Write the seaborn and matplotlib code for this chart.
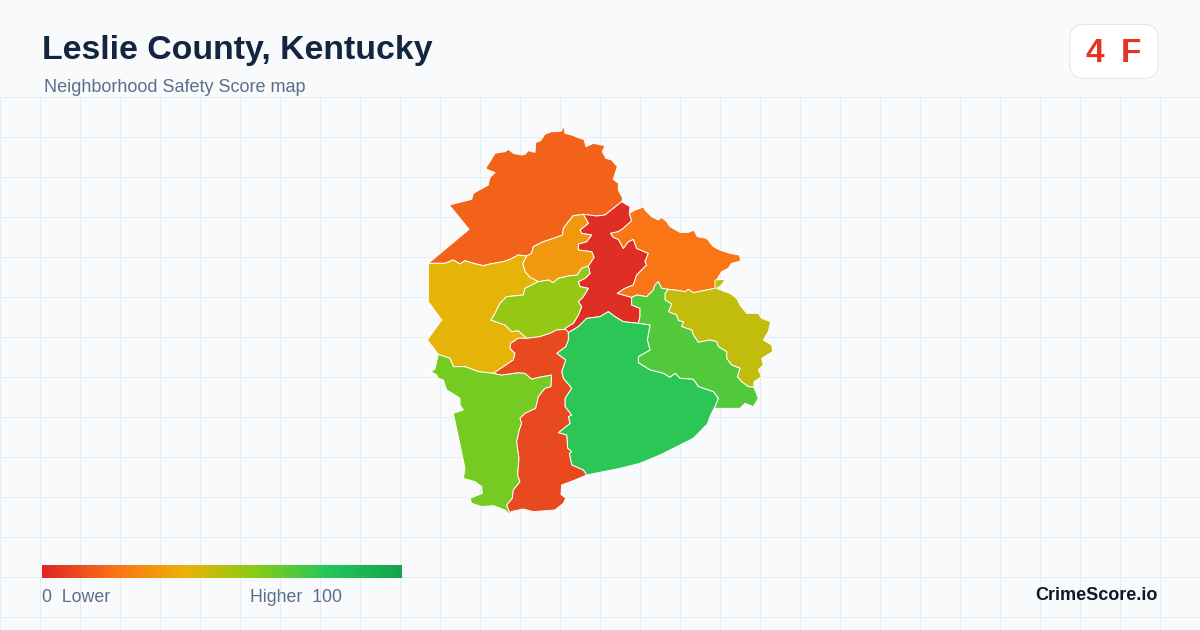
import numpy as np
import matplotlib
matplotlib.use("Agg")
import matplotlib.pyplot as plt
from matplotlib.patches import FancyBboxPatch, Polygon
import seaborn as sns

# ---------- values ----------
TITLE = "Leslie County, Kentucky"
SUBTITLE = "Neighborhood Safety Score map"
SCORE_TEXT = "4"
GRADE_TEXT = "F"
OVERALL_SCORE = 4
BRAND = "CrimeScore.io"
SCALE_MIN, SCALE_MAX = 0, 100

region_names = ["north", "center", "northeast", "amber", "west", "midlime",
                "olive", "eastmid", "southeast", "southwest", "south"]
region_scores = [16, 2, 21, 32, 41, 57, 48, 70, 78, 63, 9]
scale_colors = ["#dc2626", "#f97316", "#eab308", "#84cc16", "#22c55e", "#16a34a"]

# Map geometry: shared borders, in map units (y down)
N_out = [(25,430),(147,328),(88,255),(155,238),(160,220),(178,210),(205,195),(208,178),(212,170),(225,158),(200,148),(198,143),
         (210,125),(225,100),(240,97),(255,95),(265,88),(280,100),(305,105),(315,103),(325,92),(345,97),(347,68),(362,62),(375,42),
         (395,35),(410,35),(425,33),(430,15),(435,40),(455,45),(480,55),(492,58),(498,80),(520,70),(555,77),(547,95),(558,115),
         (575,120),(592,140),(580,178),(595,190),(595,210),(608,235),(605,245)]
N_R = [(605,245),(580,265),(555,285),(530,288),(490,283)]
N_Am = [(490,283),(460,287),(445,305),(430,325),(428,345),(395,357),(370,365),(340,380),(335,400),(320,408)]
N_Y = [(320,408),(295,405),(270,418),(250,425),(210,432),(190,437),(160,430),(135,422),(120,432),(100,420),(75,430),(50,430),(25,430)]
Am_R = [(490,283),(505,310),(480,330),(485,340),(515,345),(500,365),(475,372),(475,390),(515,395),(522,412),(505,438)]
Am_LY = [(505,438),(485,445),(472,465),(445,468),(415,475),(400,488),(385,480),(355,485)]
Am_Y = [(355,485),(330,472),(315,455),(308,430),(320,408)]
LY_R = [(505,438),(510,460),(495,475),(475,485),(480,500),(505,505),(490,530),(475,545),(485,560),(475,585),(460,610),(435,625)]
R_tip = [(435,625),(437,628)]
R_G = [(445,638),(475,620),(500,595),(540,590),(565,575),(585,590),(610,605),(655,610)]
R_top = [(605,245),(630,260),(628,280)]
R_O = [(628,280),(635,302),(610,325),(595,335),(572,340),(580,352),(595,358),(610,385),(625,365),(640,358),(650,385),
       (685,400),(675,425),(680,435),(650,465),(640,495),(615,505),(592,520),(635,532)]
R_GM = [(635,532),(635,555),(660,565),(660,590),(655,610)]
O_GM = [(635,532),(650,525),(680,530),(700,510),(705,495),(715,485),(725,505),(745,508)]
O_out = [(628,280),(645,270),(660,265),(670,260),(675,270),(695,290),(715,300),(725,292),(740,305),(750,320),(780,337),(805,337),
         (822,330),(832,350),(860,355),(880,380),(900,390),(930,400),(958,405),(962,423),(935,430),(925,445),(905,455),(890,480),(885,505)]
O_Ol = [(745,508),(765,510),(795,515),(805,508),(820,518),(850,512),(885,505)]
Ol_out = [(885,505),(885,480),(915,478),(905,495),(890,505),(915,515),(930,520),(950,535),(960,555),(980,580),(1015,580),(1025,595),
          (1052,605),(1045,635),(1030,660),(1055,675),(1058,695),(1025,715),(1030,735),(1015,750),(1025,770),(1002,785),(1002,802)]
GM_Ol = [(745,508),(735,520),(735,540),(755,552),(745,575),(770,585),(775,602),(790,605),(785,620),(815,630),(820,645),(835,667),
         (870,660),(890,665),(895,680),(920,695),(920,715),(935,735),(960,745),(952,770),(965,785),(985,800),(1002,802)]
GM_out = [(1002,802),(1015,835),(1000,860),(975,850),(960,865),(900,865),(880,865),(870,890),(862,912)]
G_GM = [(655,610),(690,615),(682,660),(690,690),(655,710),(655,728),(690,750),(730,760),(750,772),(765,760),(780,775),(820,778),
        (835,800),(880,815),(895,835),(885,860),(872,885),(862,912)]
G_out = [(862,912),(820,955),(780,975),(720,1005),(660,1030),(600,1045),(500,1065)]
RO_G = [(445,638),(445,660),(437,680),(410,700),(437,720),(425,755),(430,775),(455,805),(435,835),(435,860),(455,885),
        (445,890),(450,910),(415,938),(440,945),(443,985),(455,995),(448,1000),(455,1035),(490,1050),(500,1065)]
LY_Y = [(355,485),(335,495),(315,505),(310,525),(260,530),(240,550),(225,580),(213,600),(240,610),(255,615),(275,635),(295,632),(320,655)]
LY_RO = [(437,628),(410,630),(390,640),(360,650),(320,655)]
Y_RO = [(320,655),(295,655),(272,670),(270,685),(285,700),(280,720),(250,740),(220,760)]
Y_L = [(55,703),(90,715),(100,740),(135,740),(175,755),(220,760)]
Y_out = [(55,703),(22,660),(65,600),(25,545),(25,430)]
RO_L = [(220,760),(245,765),(295,758),(315,760),(335,777),(365,770),(395,765),(393,800),(375,805),(355,830),(347,865),(315,880),
        (300,895),(305,910),(298,930),(290,965),(297,1015),(293,1065),(300,1085),(280,1110),(277,1135),(260,1155),(273,1187)]
RO_out = [(273,1187),(273,1175),(310,1167),(340,1175),(405,1170),(430,1150),(437,1135),(423,1123),(425,1095),(465,1080),(500,1065)]
L_out = [(55,703),(50,725),(45,747),(33,755),(50,765),(55,775),(70,780),(80,810),(105,825),(120,835),(120,855),(130,870),
         (100,880),(135,1045),(130,1075),(165,1085),(185,1100),(187,1120),(150,1135),(155,1150),(185,1160),(220,1157),(255,1170),(273,1187)]


def rev(chain):
    return chain[::-1]


region_shapes = {
    "north": N_out + N_R + N_Am + N_Y,
    "center": N_R + Am_R + LY_R + R_tip + R_G + rev(R_GM) + rev(R_O) + rev(R_top),
    "northeast": R_O + O_GM + O_Ol + rev(O_out),
    "amber": N_Am + rev(Am_Y) + rev(Am_LY) + rev(Am_R),
    "west": rev(N_Y) + rev(Am_Y) + LY_Y + Y_RO + rev(Y_L) + Y_out,
    "midlime": Am_LY + LY_Y + rev(LY_RO) + rev(R_tip) + rev(LY_R),
    "olive": O_Ol + Ol_out + rev(GM_Ol),
    "eastmid": R_GM + G_GM + rev(GM_out) + rev(GM_Ol) + rev(O_GM),
    "southeast": R_G + G_GM + G_out + rev(RO_G),
    "southwest": Y_L + RO_L + rev(L_out),
    "south": LY_RO + Y_RO + RO_L + RO_out + rev(RO_G),
}

# ---------- drawing ----------
sns.set_theme(style="white")
plt.rcParams["font.family"] = ["Liberation Sans", "DejaVu Sans"]
W, H = 1200, 630
BG = "#f8fafc"
GRID = "#e4edf3"
INK = "#12263f"
MUTED = "#5a6f8c"

cmap = sns.blend_palette(scale_colors, n_colors=256, as_cmap=True)
fig = plt.figure(figsize=(W / 100, H / 100), dpi=100, facecolor=BG)

# page layer in pixels
page = fig.add_axes([0, 0, 1, 1], facecolor=BG)
page.set_xlim(0, W)
page.set_ylim(H, 0)
page.axis("off")
for x in range(0, W + 1, 40):
    page.plot([x, x], [97, H], color=GRID, lw=0.75, zorder=1, solid_capstyle="butt")
for y in range(97, H, 40):
    page.plot([0, W], [y, y], color=GRID, lw=0.75, zorder=1, solid_capstyle="butt")

page.text(42, 51, TITLE, fontsize=24.4, fontweight="bold", color=INK, va="center", ha="left")
page.text(44, 87, SUBTITLE, fontsize=12.95, color=MUTED, va="center", ha="left")
page.add_patch(FancyBboxPatch((1070 + 14, 24.5 + 14), 88 - 28, 54 - 28,
                              boxstyle="round,pad=14,rounding_size=14",
                              fc="white", ec="#e2e8f0", lw=0.8, zorder=3))
badge = cmap(OVERALL_SCORE / SCALE_MAX)
page.text(1095, 54, SCORE_TEXT, fontsize=24, fontweight="bold", color=badge, va="center", ha="center", zorder=4)
page.text(1131, 54, GRADE_TEXT, fontsize=24, fontweight="bold", color=badge, va="center", ha="center", zorder=4)
page.text(42, 598, f"{SCALE_MIN}  Lower", fontsize=12.8, color=MUTED, va="center", ha="left")
page.text(341.5, 598, f"Higher  {SCALE_MAX}", fontsize=12.8, color=MUTED, va="center", ha="right")
page.text(1158, 595, BRAND, fontsize=13, fontweight="bold", color="#0f172a", va="center", ha="right")

# map layer: map units are a third of a pixel
mp = fig.add_axes([0, 0, 1, 1], facecolor="none")
mp.set_xlim(-1260, 2340)
mp.set_ylim(1530, -360)
mp.axis("off")
for name, score in zip(region_names, region_scores):
    mp.add_patch(Polygon(region_shapes[name], closed=True, fc=cmap(score / SCALE_MAX),
                         ec="white", lw=0.7, joinstyle="round"))

# legend gradient
bar = fig.add_axes([42 / W, 1 - 578 / H, 360 / W, 13 / H])
gradient = np.linspace(SCALE_MIN, SCALE_MAX, 360)[None, :]
sns.heatmap(gradient, ax=bar, cmap=cmap, vmin=SCALE_MIN, vmax=SCALE_MAX, cbar=False,
            xticklabels=False, yticklabels=False, rasterized=True)

fig.savefig("out.png", dpi=100, facecolor=BG)
